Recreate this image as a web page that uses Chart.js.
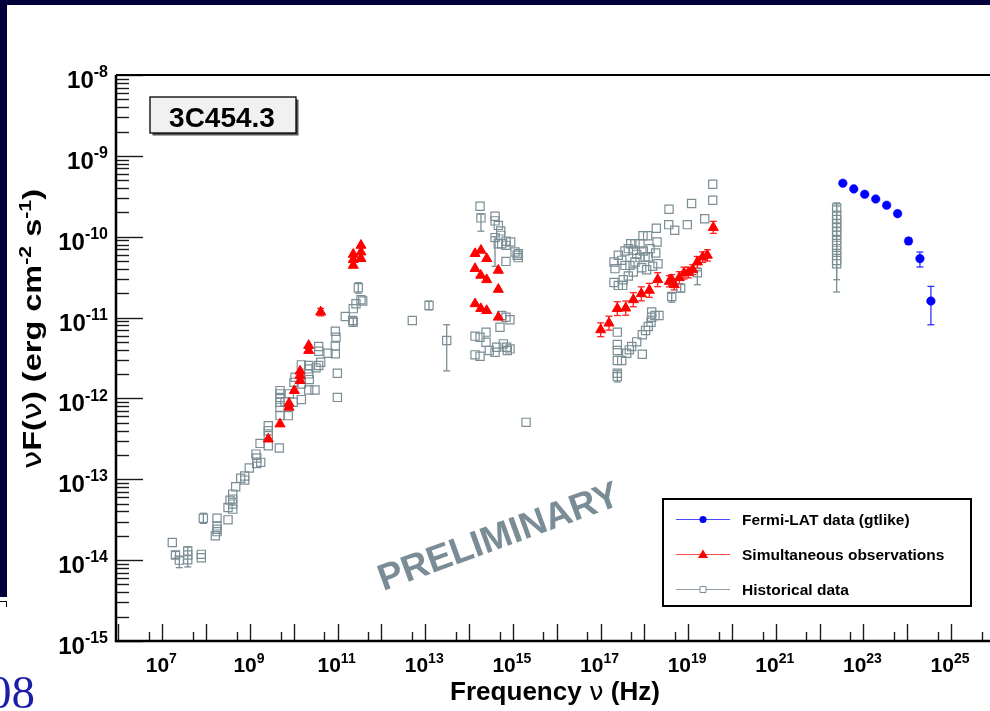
<!DOCTYPE html>
<html>
<head>
<meta charset="utf-8">
<script src="https://cdn.jsdelivr.net/npm/chart.js@4.4.1/dist/chart.umd.min.js"></script>
<style>
	html, body { margin: 0; padding: 0; background: #fff; overflow: hidden; }
	canvas { display: block; }
</style>
</head>
<body>
<canvas id="sed_chart" width="990" height="711"></canvas>
<script>
// 3C454.3 spectral energy distribution, nu [Hz] vs nuF(nu) [erg cm-2 s-1]

const fermiNu = [3.39e22, 6.03e22, 1.07e23, 1.91e23, 3.39e23, 6.03e23, 1.07e24, 1.95e24, 3.47e24]
const fermiFlux = [4.59e-10, 3.90e-10, 3.35e-10, 2.93e-10, 2.45e-10, 1.93e-10, 8.85e-11, 5.36e-11, 1.60e-11]
const fermiErr = [[1.07e24, 8.1e-11, 9.6e-11], [1.95e24, 4.22e-11, 6.46e-11], [3.47e24, 8.15e-12, 2.43e-11]]

const simultaneous = [
	// radio / mm
	[2.62e9, 3.15e-13], [4.85e9, 4.83e-13], [7.78e9, 7.76e-13], [7.78e9, 8.7e-13], [1.03e10, 1.25e-12],
	[1.39e10, 1.66e-12], [1.39e10, 1.92e-12], [1.39e10, 2.17e-12], [2.19e10, 3.91e-12], [2.19e10, 4.51e-12],
	[4.12e10, 1.17e-11], [2.28e11, 4.42e-11], [2.28e11, 5.2e-11], [2.28e11, 6.05e-11], [3.42e11, 5.36e-11],
	[3.42e11, 6.46e-11], [3.42e11, 7.82e-11],
	// optical / UV
	[1.37e14, 6.18e-11], [1.87e14, 6.79e-11], [2.53e14, 5.36e-11], [1.37e14, 4.03e-11], [1.85e14, 3.33e-11],
	[2.53e14, 2.94e-11], [4.66e14, 3.84e-11], [4.66e14, 2.23e-11], [1.37e14, 1.48e-11], [1.85e14, 1.29e-11],
	[2.53e14, 1.22e-11], [4.66e14, 1.01e-11],
	// X-ray
	[1.01e17, 7.06e-12], [1.56e17, 8.53e-12], [2.42e17, 1.29e-11], [3.76e17, 1.31e-11], [5.61e17, 1.66e-11],
	[8.53e17, 1.97e-11], [1.30e18, 2.17e-11], [2.02e18, 2.94e-11], [3.72e18, 2.8e-11], [4.22e18, 2.94e-11],
	[4.83e18, 2.55e-11], [6.29e18, 3.11e-11], [8.05e18, 3.55e-11], [1.01e19, 3.59e-11], [1.27e19, 3.91e-11],
	[1.62e19, 4.86e-11], [2.15e19, 5.6e-11], [2.74e19, 5.89e-11], [3.75e19, 1.30e-10],
]
const simultaneousErr = [
	[4.12e10, 1.05e-11, 1.3e-11],
	[1.01e17, 5.8e-12, 8.6e-12], [1.56e17, 7.0e-12, 1.04e-11], [2.42e17, 1.06e-11, 1.57e-11], [3.76e17, 1.07e-11, 1.6e-11],
	[5.61e17, 1.36e-11, 2.03e-11], [8.53e17, 1.61e-11, 2.4e-11], [1.30e18, 1.78e-11, 2.65e-11], [2.02e18, 2.41e-11, 3.59e-11],
	[3.72e18, 2.4e-11, 3.3e-11], [4.22e18, 2.5e-11, 3.4e-11], [4.83e18, 2.2e-11, 2.95e-11], [6.29e18, 2.6e-11, 3.7e-11],
	[8.05e18, 3.0e-11, 4.2e-11], [1.01e19, 3.1e-11, 4.2e-11], [1.27e19, 3.4e-11, 4.5e-11], [1.62e19, 4.1e-11, 5.7e-11],
	[2.15e19, 4.8e-11, 6.5e-11], [2.74e19, 5.0e-11, 6.9e-11], [3.75e19, 1.1e-10, 1.55e-10],
]

const historical = [
	// radio
	[1.69e7, 1.65e-14], [2.0e7, 1.16e-14], [2.44e7, 1.0e-14], [3.8e7, 1.30e-14], [3.8e7, 1.16e-14],
	[3.8e7, 1.01e-14], [7.76e7, 1.18e-14], [7.76e7, 1.07e-14], [8.63e7, 3.3e-14], [1.62e8, 2.0e-14],
	[1.77e8, 3.3e-14], [1.77e8, 2.65e-14], [1.77e8, 2.41e-14], [1.77e8, 2.25e-14], [3.16e8, 3.15e-14],
	[3.16e8, 4.48e-14], [3.51e8, 5.52e-14], [4.04e8, 4.27e-14], [4.04e8, 4.93e-14], [4.04e8, 5.69e-14],
	[4.04e8, 6.56e-14], [4.73e8, 8.07e-14], [6.15e8, 1.03e-13], [7.59e8, 1.10e-13], [7.59e8, 9.77e-14],
	[9.66e8, 1.38e-13], [1.43e9, 1.57e-13], [1.76e9, 1.62e-13], [1.37e9, 2.05e-13], [1.43e9, 1.83e-13],
	[1.70e9, 2.78e-13], [2.62e9, 4.60e-13], [2.62e9, 3.99e-13], [2.62e9, 3.46e-13], [2.62e9, 2.60e-13],
	[4.68e9, 2.44e-13], [4.85e9, 6.12e-13], [7.5e9, 6.12e-13], [4.85e9, 1.25e-12], [4.85e9, 1.14e-12],
	[4.85e9, 1.03e-12], [4.85e9, 8.95e-13], [4.85e9, 7.76e-13], [6.3e9, 9.13e-13], [7.91e9, 1.14e-12],
	[9.75e9, 8.95e-13], [1.01e10, 1.58e-12], [1.07e10, 1.83e-12], [1.49e10, 2.60e-12], [1.49e10, 1.51e-12],
	[1.49e10, 9.67e-13], [2.19e10, 2.55e-12], [2.19e10, 2.32e-12], [2.19e10, 2.01e-12], [2.26e10, 1.71e-12],
	[2.19e10, 1.27e-12], [3.05e10, 1.27e-12], [3.22e10, 2.39e-12], [3.71e10, 2.55e-12], [4.12e10, 2.80e-12],
	[3.71e10, 4.38e-12], [3.71e10, 3.84e-12], [6.04e10, 3.62e-12], [8.87e10, 6.78e-12], [9.2e10, 5.71e-12],
	[8.87e10, 4.43e-12], [8.87e10, 3.56e-12], [9.87e10, 2.05e-12], [9.87e10, 1.03e-12], [1.5e11, 1.03e-11],
	[2.21e11, 9.21e-12], [2.28e11, 8.78e-12], [2.28e11, 1.29e-11], [2.63e11, 1.48e-11], [2.97e11, 2.34e-11],
	[3.42e11, 1.66e-11], [3.74e11, 1.60e-11],
	// IR / optical / UV
	[5.07e12, 9.21e-12], [1.22e13, 1.41e-11], [3.09e13, 5.2e-12], [1.78e14, 2.38e-10], [1.87e14, 1.71e-10],
	[3.92e14, 1.79e-10], [3.92e14, 1.57e-10], [4.66e14, 1.38e-10], [5.28e14, 1.18e-10], [5.28e14, 1.04e-10],
	[3.92e14, 9.75e-11], [4.66e14, 8.2e-11], [5.56e14, 8.2e-11], [6.97e14, 8.77e-11], [6.97e14, 7.82e-11],
	[8.93e14, 8.6e-11], [1.12e15, 6.46e-11], [1.33e15, 6.17e-11], [1.33e15, 5.51e-11], [1.25e15, 5.89e-11],
	[6.97e14, 4.95e-11],
	[1.37e14, 5.89e-12], [1.78e14, 5.71e-12], [2.44e14, 6.6e-12], [2.44e14, 4.95e-12], [1.37e14, 3.46e-12],
	[1.78e14, 3.32e-12], [2.9e14, 3.91e-12], [3.92e14, 3.72e-12], [4.28e14, 4.29e-12], [5.56e14, 1.06e-11],
	[6.97e14, 1.01e-11], [8.6e14, 9.4e-12], [5.08e14, 7.6e-12], [6.05e14, 4.73e-12], [7.23e14, 4.29e-12],
	[8.6e14, 4.1e-12], [7.47e14, 3.91e-12], [2.0e15, 5.06e-13],
	// X-ray
	[3.64e19, 4.46e-10], [3.64e19, 2.82e-10], [3.66e18, 2.19e-10], [1.2e19, 2.57e-10], [3.6e18, 1.41e-10],
	[4.93e18, 1.2e-10], [9.57e18, 1.41e-10], [2.39e19, 1.67e-10], [1.88e18, 1.27e-10], [1.19e18, 1.03e-10],
	[9.33e17, 1.03e-10], [1.95e18, 8.6e-11], [4.89e17, 8.2e-11], [6.12e17, 8.2e-11], [7.96e17, 8.2e-11],
	[4.31e17, 7.12e-11], [3.62e17, 6.65e-11], [2.55e17, 5.89e-11], [2.03e17, 4.86e-11], [2.14e17, 4.03e-11],
	[5.61e17, 6.79e-11], [6.7e17, 6.05e-11], [9.5e17, 6.65e-11], [1.35e18, 7.12e-11], [1.04e18, 5.6e-11],
	[7.96e17, 5.51e-11], [1.23e18, 5.6e-11], [1.82e18, 6.28e-11], [3.05e17, 5.1e-11], [3.62e17, 4.42e-11],
	[4.71e17, 4.42e-11], [6.12e17, 4.86e-11], [8.71e17, 4.14e-11], [1.13e18, 3.91e-11], [1.55e18, 4.3e-11],
	[2.05e18, 4.64e-11], [5.61e17, 3.66e-11], [4.31e17, 3.26e-11], [3.31e17, 2.94e-11], [2.03e17, 2.72e-11],
	[2.55e17, 2.5e-11], [3.21e17, 2.5e-11], [1.62e19, 3.59e-11], [6.76e18, 2.31e-11], [4.22e18, 1.82e-11],
	[2.42e17, 6.6e-12], [2.42e17, 4.64e-12], [2.42e17, 3.91e-12], [2.42e17, 2.94e-12], [3.05e17, 2.94e-12],
	[2.42e17, 2.05e-12], [2.42e17, 1.86e-12], [3.96e17, 3.62e-12], [4.54e17, 3.99e-12], [5.15e17, 4.38e-12],
	[6.7e17, 5.01e-12], [9.0e17, 6.12e-12], [1.07e18, 6.92e-12], [1.23e18, 7.76e-12], [1.42e18, 8.77e-12],
	[1.47e18, 1.01e-11], [1.47e18, 1.17e-11], [1.75e18, 1.06e-11], [2.16e18, 1.06e-11], [9.0e17, 3.52e-12],
	// EGRET gamma-ray
	[2.45e22, 2.27e-10], [2.45e22, 1.84e-10], [2.45e22, 1.63e-10], [2.45e22, 1.45e-10], [2.45e22, 1.32e-10],
	[2.45e22, 1.17e-10], [2.45e22, 1.04e-10], [2.45e22, 9.0e-11], [2.45e22, 7.82e-11], [2.45e22, 6.78e-11],
	[2.45e22, 5.87e-11], [2.45e22, 5.09e-11], [2.45e22, 4.64e-11],
]
const historicalErr = [
	[2.0e7, 1.05e-14, 1.28e-14], [2.44e7, 8.07e-15, 1.1e-14], [3.8e7, 8.24e-15, 1.46e-14], [8.63e7, 2.85e-14, 3.8e-14],
	[2.28e11, 7.8e-12, 9.9e-12], [2.97e11, 2.0e-11, 2.7e-11], [1.22e13, 1.25e-11, 1.6e-11], [3.09e13, 2.19e-12, 8.15e-12],
	[1.87e14, 1.17e-10, 1.9e-10], [3.92e14, 4.3e-11, 1.0e-10], [1.62e19, 2.55e-11, 3.8e-11], [6.76e18, 2.07e-11, 2.6e-11],
	[4.22e18, 1.55e-11, 2.0e-11], [2.42e17, 1.6e-12, 2.2e-12], [2.45e22, 2.07e-11, 2.62e-10], [2.45e22, 2.94e-11, 2.4e-10],
]

const xLabelExps = [7, 9, 11, 13, 15, 17, 19, 21, 23, 25]
const yLabelExps = [-8, -9, -10, -11, -12, -13, -14, -15]

const X_MIN = 8.77e5, X_MAX = 7.74e25, Y_MIN = 1e-15, Y_MAX = 1e-8

const NAVY = '#00003a'
const HIST_COLOR = '#7b8e95'
const FONT = '"Liberation Sans", Arial, Helvetica, sans-serif'
const GREEK = '"DejaVu Sans", "Liberation Sans", sans-serif'

function toXY(pairs) {
	return pairs.map(p => ({ x: p[0], y: p[1] }))
}

function hline(ctx, x1, y1, x2, y2) {
	ctx.beginPath()
	ctx.moveTo(x1, y1)
	ctx.lineTo(x2, y2)
	ctx.stroke()
}

// "10" with a raised exponent, ROOT style
function powerLabel(ctx, x, y, exp, size, align) {
	let big = 'bold ' + size + 'px ' + FONT
	let small = 'bold ' + Math.round(size * 0.68) + 'px ' + FONT
	ctx.font = big
	let w1 = ctx.measureText('10').width
	ctx.font = small
	let w2 = ctx.measureText(String(exp)).width
	let x0 = align === 'right' ? x - w1 - w2 : x - (w1 + w2) / 2
	ctx.textAlign = 'left'
	ctx.textBaseline = 'alphabetic'
	ctx.font = big
	ctx.fillText('10', x0, y)
	ctx.font = small
	ctx.fillText(String(exp), x0 + w1, y - size * 0.45)
}

// draws a list of [text, font, raise] pieces starting at x
function drawPieces(ctx, pieces, x, y) {
	ctx.textAlign = 'left'
	ctx.textBaseline = 'alphabetic'
	pieces.forEach(p => {
		ctx.font = p[1]
		ctx.fillText(p[0], x, y - (p[2] || 0))
		x += ctx.measureText(p[0]).width
	})
}

function piecesWidth(ctx, pieces) {
	let w = 0
	pieces.forEach(p => {
		ctx.font = p[1]
		w += ctx.measureText(p[0]).width
	})
	return w
}

const slidePlugin = {
	id: 'slide',
	beforeDraw(chart) {
		const ctx = chart.ctx
		ctx.save()
		ctx.fillStyle = '#fff'
		ctx.fillRect(0, 0, chart.width, chart.height)
		ctx.fillStyle = NAVY
		ctx.fillRect(0, 0, chart.width, 5)
		ctx.fillRect(0, 0, 7, 597)
		ctx.strokeStyle = '#000'
		ctx.lineWidth = 1
		ctx.beginPath()
		ctx.moveTo(0, 601.5)
		ctx.lineTo(6.5, 601.5)
		ctx.lineTo(6.5, 607)
		ctx.stroke()
		ctx.fillStyle = '#1c1caa'
		ctx.font = '47px "Liberation Serif", "Times New Roman", serif'
		ctx.textAlign = 'right'
		ctx.textBaseline = 'alphabetic'
		ctx.fillText('2008', 35, 708)
		ctx.restore()
	},
}

const errorBarPlugin = {
	id: 'errorBars',
	beforeDatasetsDraw(chart) {
		const ctx = chart.ctx
		const xs = chart.scales.x, ys = chart.scales.y
		const sets = [
			[historicalErr, HIST_COLOR],
			[simultaneousErr, '#ff2020'],
			[fermiErr, '#3030ff'],
		]
		ctx.save()
		ctx.lineWidth = 1.3
		sets.forEach(s => {
			ctx.strokeStyle = s[1]
			s[0].forEach(e => {
				let px = xs.getPixelForValue(e[0])
				let lo = ys.getPixelForValue(e[1])
				let hi = ys.getPixelForValue(e[2])
				hline(ctx, px, lo, px, hi)
				hline(ctx, px - 3.5, lo, px + 3.5, lo)
				hline(ctx, px - 3.5, hi, px + 3.5, hi)
			})
		})
		ctx.restore()
	},
}

const framePlugin = {
	id: 'rootFrame',
	afterDatasetsDraw(chart) {
		const ctx = chart.ctx
		const a = chart.chartArea
		const xs = chart.scales.x, ys = chart.scales.y
		ctx.save()

		// tick marks inside the frame
		ctx.strokeStyle = '#1a1a1a'
		ctx.lineWidth = 1.4
		for (let e = -15; e <= -8; e++) {
			for (let k = 1; k <= 9; k++) {
				let v = Number(k + 'e' + e)
				if (v > Y_MAX * 1.0001) break
				let py = Math.round(ys.getPixelForValue(v)) + 0.5
				hline(ctx, a.left, py, a.left + (k === 1 ? 27 : 13), py)
			}
		}
		for (let e = 6; e <= 26; e++) {
			[1, 5].forEach(k => {
				let v = Number(k + 'e' + e)
				if (v < X_MIN || v > X_MAX) return
				let px = Math.round(xs.getPixelForValue(v)) + 0.5
				hline(ctx, px, a.bottom, px, a.bottom - (k === 1 ? 17 : 9))
			})
		}

		// frame
		ctx.strokeStyle = '#000'
		ctx.lineWidth = 2.5
		ctx.beginPath()
		ctx.moveTo(a.left, a.top)
		ctx.lineTo(a.left, a.bottom)
		ctx.lineTo(a.right, a.bottom)
		ctx.stroke()
		ctx.lineWidth = 2
		hline(ctx, a.left, a.top, a.right, a.top)

		// tick labels
		ctx.fillStyle = '#000'
		yLabelExps.forEach(e => {
			let py = ys.getPixelForValue(Number('1e' + e))
			powerLabel(ctx, 108, py + 13, e, 24, 'right')
		})
		xLabelExps.forEach(e => {
			let px = xs.getPixelForValue(Number('1e' + e))
			powerLabel(ctx, px - 1, 672, e, 21, 'center')
		})

		// axis titles
		const bold26 = 'bold 26px ' + FONT
		const sup = 'bold 17px ' + FONT
		const greek26 = '26px ' + GREEK
		const yTitle = [
			['ν', greek26], ['F(', bold26], ['ν', greek26], [') (erg cm', bold26], ['-2', sup, 10],
			[' s', bold26], ['-1', sup, 10], [')', bold26],
		]
		let yw = piecesWidth(ctx, yTitle)
		ctx.save()
		ctx.translate(41, 329)
		ctx.rotate(-Math.PI / 2)
		ctx.scale(280 / yw, 1)
		drawPieces(ctx, yTitle, -yw / 2, 0)
		ctx.restore()

		const bold25 = 'bold 25px ' + FONT
		const greek25 = '25px ' + GREEK
		const xTitle = [['Frequency ', bold25], ['ν', greek25], [' (Hz)', bold25]]
		let xw = piecesWidth(ctx, xTitle)
		ctx.save()
		ctx.translate(660, 700)
		ctx.scale(210 / xw, 1)
		drawPieces(ctx, xTitle, -xw, 0)
		ctx.restore()

		// object name box
		ctx.fillStyle = '#555'
		ctx.fillRect(152.5, 99.5, 146, 36)
		ctx.fillStyle = '#f1f1f1'
		ctx.fillRect(150, 97, 146, 36)
		ctx.strokeStyle = '#000'
		ctx.lineWidth = 1.3
		ctx.strokeRect(150, 97, 146, 36)
		ctx.fillStyle = '#000'
		ctx.font = 'bold 28px ' + FONT
		ctx.textAlign = 'center'
		ctx.textBaseline = 'alphabetic'
		ctx.fillText('3C454.3', 222, 126.5)

		// watermark
		ctx.save()
		ctx.translate(499, 538)
		ctx.rotate(-20 * Math.PI / 180)
		ctx.fillStyle = '#7a8c95'
		ctx.font = 'bold 37px ' + FONT
		ctx.textAlign = 'center'
		ctx.textBaseline = 'middle'
		ctx.fillText('PRELIMINARY', 0, 0)
		ctx.restore()

		// legend
		ctx.fillStyle = '#fff'
		ctx.fillRect(663, 499, 308, 107)
		ctx.strokeStyle = '#000'
		ctx.lineWidth = 2
		ctx.strokeRect(663, 499, 308, 107)
		const rowY = [519.5, 554.5, 589.5]
		chart.data.datasets.forEach((ds, i) => {
			let y = rowY[i]
			ctx.strokeStyle = ds.lineColor
			ctx.lineWidth = 1.2
			hline(ctx, 676, y, 730, y)
			ctx.fillStyle = ds.backgroundColor
			ctx.strokeStyle = ds.borderColor
			ctx.beginPath()
			if (ds.pointStyle === 'circle') {
				ctx.arc(703, y, 3.5, 0, Math.PI * 2)
				ctx.fill()
			} else if (ds.pointStyle === 'triangle') {
				ctx.moveTo(703, y - 5)
				ctx.lineTo(708, y + 3.5)
				ctx.lineTo(698, y + 3.5)
				ctx.closePath()
				ctx.fill()
			} else {
				ctx.fillStyle = '#fff'
				ctx.rect(700, y - 3, 6, 6)
				ctx.fill()
				ctx.lineWidth = 1
				ctx.stroke()
			}
			ctx.fillStyle = '#000'
			ctx.font = 'bold 15.5px ' + FONT
			ctx.textAlign = 'left'
			ctx.textBaseline = 'middle'
			ctx.fillText(ds.label, 742, y + 1)
		})

		ctx.restore()
	},
}

var ctx = document.getElementById('sed_chart').getContext('2d')
var sedChart = new Chart(ctx, {
	type: 'scatter',
	data: {
		datasets: [
			{
				label: 'Fermi-LAT data (gtlike)',
				data: fermiNu.map((nu, i) => ({ x: nu, y: fermiFlux[i] })),
				pointStyle: 'circle',
				pointRadius: 4.3,
				pointBorderWidth: 0.5,
				backgroundColor: '#0000ff',
				borderColor: '#0000ff',
				lineColor: '#4a4aff',
			},
			{
				label: 'Simultaneous observations',
				data: toXY(simultaneous),
				pointStyle: 'triangle',
				pointRadius: 5.8,
				pointBorderWidth: 1,
				backgroundColor: '#ff0000',
				borderColor: '#ff0000',
				lineColor: '#ff4a4a',
			},
			{
				label: 'Historical data',
				data: toXY(historical),
				pointStyle: 'rect',
				pointRadius: 5.8,
				pointBorderWidth: 1.2,
				backgroundColor: 'rgba(255,255,255,0)',
				borderColor: HIST_COLOR,
				lineColor: '#8fa0a6',
			},
		],
	},
	options: {
		responsive: false,
		animation: false,
		devicePixelRatio: 1,
		layout: {
			autoPadding: false,
			padding: { left: 116, top: 75, right: 0, bottom: 70 },
		},
		plugins: {
			legend: { display: false },
			tooltip: { enabled: false },
		},
		scales: {
			x: { type: 'logarithmic', display: false, min: X_MIN, max: X_MAX, bounds: 'data' },
			y: { type: 'logarithmic', display: false, min: Y_MIN, max: Y_MAX, bounds: 'data' },
		},
	},
	plugins: [slidePlugin, errorBarPlugin, framePlugin],
})
</script>
</body>
</html>
